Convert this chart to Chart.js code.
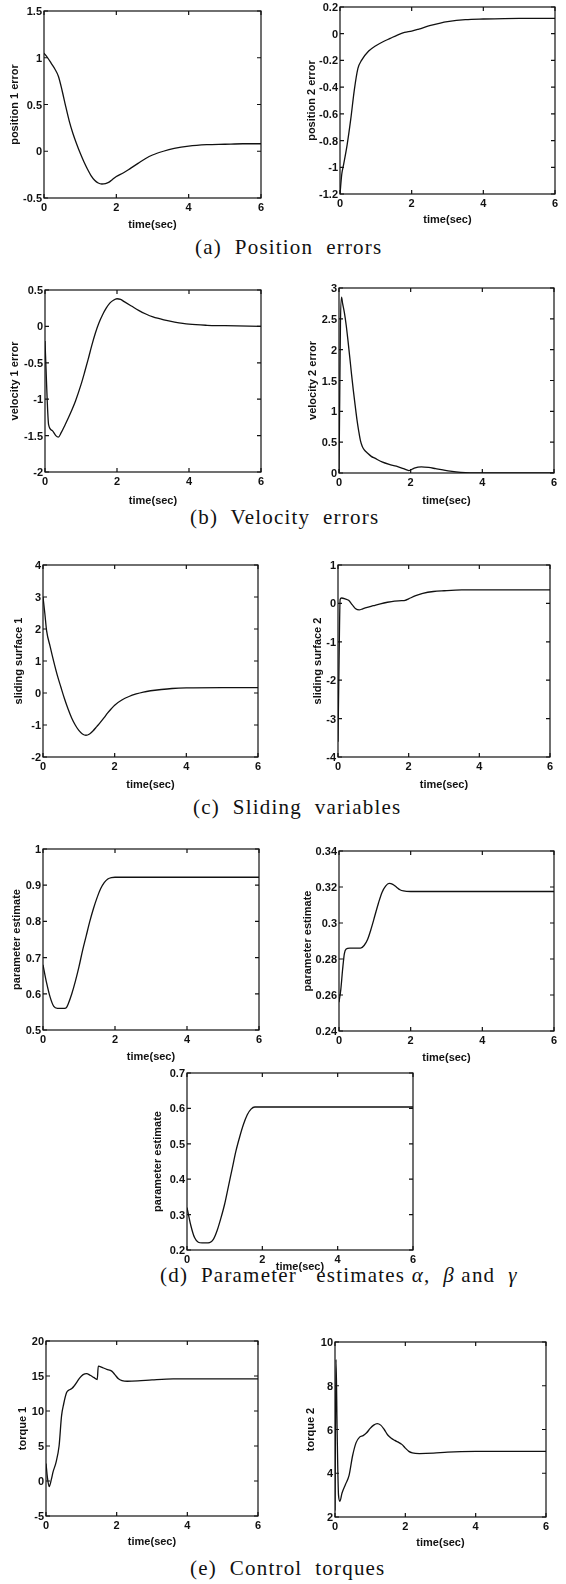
<!DOCTYPE html>
<html>
<head>
<meta charset="utf-8">
<script src="https://cdn.jsdelivr.net/npm/chart.js@4.4.1/dist/chart.umd.min.js"></script>
<style>
  body { margin: 0; background: #fff; }
  #page { position: relative; width: 566px; height: 1584px; overflow: hidden; background: #fff; }
  #page canvas { position: absolute; }
  .cap {
    position: absolute; font-family: "Liberation Serif", "DejaVu Serif", serif;
    font-size: 21px; line-height: 22px; color: #111; white-space: pre; letter-spacing: 1.2px;
  }
</style>
</head>
<body>
<div id="page">
  <div class="cap" style="left:195px; top:236px">(a)  Position  errors</div>
  <div class="cap" style="left:190px; top:506px">(b)  Velocity  errors</div>
  <div class="cap" style="left:193px; top:796px">(c)  Sliding  variables</div>
  <div class="cap" style="left:160px; top:1264px">(d)  Parameter   estimates <i>α</i>,  <i>β</i> and  <i>γ</i></div>
  <div class="cap" style="left:190px; top:1557px">(e)  Control  torques</div>
</div>
<script>
// time axis
const timeTicks = [0, 2, 4, 6];

// (a) position errors
const pos1T = [0, 0.1, 0.2, 0.3, 0.4, 0.5, 0.6, 0.7, 0.8, 0.9, 1.0, 1.1, 1.2, 1.3, 1.4, 1.5, 1.6, 1.7, 1.8, 1.9, 2.0, 2.2, 2.4, 2.6, 2.8, 3.0, 3.3, 3.6, 4.0, 4.5, 5.0, 5.5, 6.0];
const pos1E = [1.05, 1.0, 0.94, 0.88, 0.8, 0.65, 0.48, 0.32, 0.19, 0.08, -0.02, -0.11, -0.19, -0.26, -0.31, -0.34, -0.35, -0.345, -0.33, -0.3, -0.27, -0.23, -0.18, -0.13, -0.08, -0.04, 0.0, 0.03, 0.055, 0.07, 0.075, 0.08, 0.08];
const pos1Ticks = [-0.5, 0, 0.5, 1, 1.5];

const pos2T = [0, 0.05, 0.1, 0.2, 0.3, 0.4, 0.5, 0.6, 0.8, 1.0, 1.2, 1.4, 1.6, 1.8, 2.0, 2.2, 2.5, 2.8, 3.0, 3.5, 4.0, 5.0, 6.0];
const pos2E = [-1.2, -1.05, -0.98, -0.83, -0.64, -0.42, -0.26, -0.2, -0.13, -0.09, -0.06, -0.035, -0.01, 0.01, 0.02, 0.035, 0.06, 0.08, 0.09, 0.105, 0.11, 0.115, 0.115];
const pos2Ticks = [-1.2, -1, -0.8, -0.6, -0.4, -0.2, 0, 0.2];

// (b) velocity errors
const vel1T = [0, 0.03, 0.06, 0.1, 0.2, 0.3, 0.37, 0.45, 0.55, 0.7, 0.85, 1.0, 1.1, 1.2, 1.3, 1.4, 1.5, 1.6, 1.7, 1.8, 1.9, 2.0, 2.1, 2.2, 2.4, 2.6, 2.8, 3.0, 3.3, 3.6, 4.0, 4.5, 5.0, 6.0];
const vel1E = [-0.2, -0.6, -1.0, -1.35, -1.43, -1.5, -1.52, -1.46, -1.36, -1.2, -1.02, -0.8, -0.63, -0.45, -0.26, -0.09, 0.05, 0.16, 0.25, 0.32, 0.36, 0.38, 0.37, 0.34, 0.28, 0.22, 0.17, 0.13, 0.09, 0.06, 0.03, 0.015, 0.01, 0.0];
const vel1Ticks = [-2, -1.5, -1, -0.5, 0, 0.5];

const vel2T = [0, 0.02, 0.04, 0.07, 0.1, 0.15, 0.2, 0.25, 0.3, 0.35, 0.4, 0.45, 0.5, 0.55, 0.6, 0.65, 0.7, 0.8, 0.9, 1.0, 1.2, 1.4, 1.6, 1.8, 1.95, 2.1, 2.3, 2.5, 2.7, 2.9, 3.1, 3.4, 4.0, 6.0];
const vel2E = [0, 1.2, 2.4, 2.85, 2.75, 2.6, 2.4, 2.15, 1.88, 1.6, 1.34, 1.1, 0.87, 0.68, 0.52, 0.43, 0.38, 0.32, 0.27, 0.24, 0.18, 0.14, 0.11, 0.07, 0.04, 0.08, 0.1, 0.09, 0.07, 0.05, 0.03, 0.01, 0.0, 0.0];
const vel2Ticks = [0, 0.5, 1, 1.5, 2, 2.5, 3];

// (c) sliding variables
const sl1T = [0, 0.05, 0.1, 0.2, 0.3, 0.4, 0.5, 0.6, 0.7, 0.8, 0.9, 1.0, 1.1, 1.2, 1.3, 1.4, 1.5, 1.6, 1.7, 1.8, 1.9, 2.0, 2.2, 2.4, 2.6, 2.8, 3.0, 3.3, 3.6, 4.0, 5.0, 6.0];
const sl1E = [3.0, 2.5, 1.95, 1.45, 0.98, 0.55, 0.18, -0.18, -0.5, -0.78, -1.0, -1.17, -1.28, -1.32, -1.28, -1.18, -1.05, -0.92, -0.78, -0.63, -0.5, -0.38, -0.22, -0.11, -0.03, 0.03, 0.07, 0.11, 0.14, 0.16, 0.17, 0.17];
const sl1Ticks = [-2, -1, 0, 1, 2, 3, 4];

const sl2T = [0, 0.03, 0.06, 0.1, 0.2, 0.3, 0.4, 0.5, 0.6, 0.7, 0.8, 1.0, 1.2, 1.4, 1.6, 1.8, 1.9, 2.0, 2.2, 2.4, 2.7, 3.0, 3.5, 4.0, 5.0, 6.0];
const sl2E = [-3.6, -1.5, 0.1, 0.14, 0.12, 0.08, -0.03, -0.14, -0.17, -0.14, -0.11, -0.06, -0.01, 0.03, 0.06, 0.07, 0.08, 0.12, 0.2, 0.26, 0.31, 0.33, 0.35, 0.35, 0.35, 0.35];
const sl2Ticks = [-4, -3, -2, -1, 0, 1];

// (d) parameter estimates alpha, beta, gamma
const alphaT = [0, 0.1, 0.2, 0.3, 0.4, 0.5, 0.6, 0.65, 0.7, 0.8, 0.9, 1.0, 1.1, 1.2, 1.3, 1.4, 1.5, 1.6, 1.7, 1.8, 1.9, 2.0, 6.0];
const alphaE = [0.68, 0.63, 0.59, 0.565, 0.56, 0.56, 0.56, 0.562, 0.572, 0.6, 0.635, 0.675, 0.72, 0.76, 0.8, 0.835, 0.865, 0.89, 0.907, 0.917, 0.921, 0.922, 0.922];
const alphaTicks = [0.5, 0.6, 0.7, 0.8, 0.9, 1];

const betaT = [0, 0.05, 0.1, 0.15, 0.2, 0.3, 0.4, 0.5, 0.6, 0.7, 0.8, 0.9, 1.0, 1.1, 1.2, 1.3, 1.4, 1.5, 1.6, 1.7, 1.8, 2.0, 6.0];
const betaE = [0.256, 0.263, 0.274, 0.283, 0.2855, 0.286, 0.286, 0.286, 0.286, 0.2875, 0.291, 0.297, 0.304, 0.311, 0.317, 0.3205, 0.322, 0.3215, 0.32, 0.3185, 0.3178, 0.3175, 0.3175];
const betaTicks = [0.24, 0.26, 0.28, 0.3, 0.32, 0.34];

const gammaT = [0, 0.1, 0.2, 0.3, 0.4, 0.5, 0.6, 0.7, 0.8, 0.9, 1.0, 1.1, 1.2, 1.3, 1.4, 1.5, 1.6, 1.7, 1.8, 6.0];
const gammaE = [0.32, 0.27, 0.235, 0.222, 0.22, 0.22, 0.221, 0.23, 0.255, 0.29, 0.33, 0.38, 0.43, 0.48, 0.52, 0.555, 0.582, 0.598, 0.604, 0.604];
const gammaTicks = [0.2, 0.3, 0.4, 0.5, 0.6, 0.7];

// (e) control torques
const tq1T = [0, 0.04, 0.09, 0.15, 0.2, 0.28, 0.37, 0.44, 0.5, 0.58, 0.65, 0.73, 0.8, 0.87, 0.95, 1.05, 1.15, 1.25, 1.35, 1.45, 1.48, 1.6, 1.72, 1.86, 1.95, 2.05, 2.15, 2.3, 2.6, 3.0, 3.6, 4.5, 6.0];
const tq1E = [2.5, 0.5, -0.8, 0.2, 1.3, 2.6, 5.0, 9.3, 11.0, 12.6, 13.0, 13.2, 13.6, 14.1, 14.7, 15.2, 15.35, 15.1, 14.8, 14.5, 16.4, 16.2, 15.95, 15.7, 15.2, 14.6, 14.35, 14.25, 14.3, 14.45, 14.6, 14.6, 14.6];
const tq1Ticks = [-5, 0, 5, 10, 15, 20];

const tq2T = [0, 0.03, 0.06, 0.1, 0.14, 0.2, 0.3, 0.4, 0.5, 0.6, 0.7, 0.8, 0.9, 1.0, 1.1, 1.2, 1.3, 1.4, 1.5, 1.6, 1.7, 1.8, 1.9, 2.0, 2.1, 2.2, 2.4, 2.8, 3.2, 4.0, 6.0];
const tq2E = [2.3, 9.2, 6.0, 3.0, 2.72, 3.1, 3.5, 3.9, 4.8, 5.4, 5.65, 5.72, 5.85, 6.05, 6.2, 6.27, 6.2, 6.0, 5.75, 5.6, 5.5, 5.42, 5.32, 5.15, 5.0, 4.93, 4.9, 4.92, 4.97, 5.0, 5.0];
const tq2Ticks = [2, 4, 6, 8, 10];

// plot boxes on the page: [left, top, right, bottom]
const panels = [
  { t: pos1T, y: pos1E, ticks: pos1Ticks, label: "position 1 error", box: [44, 11, 261, 198], yOff: 29, xOff: 27 },
  { t: pos2T, y: pos2E, ticks: pos2Ticks, label: "position 2 error", box: [340, 7, 555, 194], yOff: 28, xOff: 26 },
  { t: vel1T, y: vel1E, ticks: vel1Ticks, label: "velocity 1 error", box: [45, 290, 261, 472], yOff: 30, xOff: 29 },
  { t: vel2T, y: vel2E, ticks: vel2Ticks, label: "velocity 2 error", box: [339, 288, 554, 473], yOff: 26, xOff: 28 },
  { t: sl1T, y: sl1E, ticks: sl1Ticks, label: "sliding surface 1", box: [43, 565, 258, 757], yOff: 24, xOff: 28 },
  { t: sl2T, y: sl2E, ticks: sl2Ticks, label: "sliding surface 2", box: [338, 565, 550, 757], yOff: 20, xOff: 28 },
  { t: alphaT, y: alphaE, ticks: alphaTicks, label: "parameter estimate", box: [43, 849, 259, 1030], yOff: 26, xOff: 27 },
  { t: betaT, y: betaE, ticks: betaTicks, label: "parameter estimate", box: [339, 851, 554, 1031], yOff: 31, xOff: 27 },
  { t: gammaT, y: gammaE, ticks: gammaTicks, label: "parameter estimate", box: [187, 1073, 413, 1250], yOff: 29, xOff: 17 },
  { t: tq1T, y: tq1E, ticks: tq1Ticks, label: "torque 1", box: [46, 1341, 258, 1516], yOff: 23, xOff: 26 },
  { t: tq2T, y: tq2E, ticks: tq2Ticks, label: "torque 2", box: [335, 1342, 546, 1517], yOff: 24, xOff: 26 },
];

const PAD_L = 48, PAD_T = 10, PAD_R = 10, PAD_B = 40;
const ink = "#111";
const axisFont = { family: '"Liberation Sans", Arial, sans-serif', size: 11, weight: "bold" };

// matlab style frame with inward ticks on all four sides
const frame = {
  id: "frame",
  afterDraw(chart) {
    const { ctx, chartArea: a, scales } = chart;
    ctx.save();
    ctx.strokeStyle = ink;
    ctx.lineWidth = 1.2;
    ctx.strokeRect(a.left, a.top, a.width, a.height);
    ctx.beginPath();
    scales.x.ticks.forEach((tk) => {
      const px = scales.x.getPixelForValue(tk.value);
      ctx.moveTo(px, a.bottom); ctx.lineTo(px, a.bottom - 4);
      ctx.moveTo(px, a.top); ctx.lineTo(px, a.top + 4);
    });
    scales.y.ticks.forEach((tk) => {
      const py = scales.y.getPixelForValue(tk.value);
      ctx.moveTo(a.left, py); ctx.lineTo(a.left + 4, py);
      ctx.moveTo(a.right, py); ctx.lineTo(a.right - 4, py);
    });
    ctx.stroke();
    ctx.restore();
  },
};

function makePanel(p) {
  const page = document.getElementById("page");
  const c = document.createElement("canvas");
  const w = p.box[2] - p.box[0] + PAD_L + PAD_R;
  const h = p.box[3] - p.box[1] + PAD_T + PAD_B;
  c.width = w;
  c.height = h;
  c.style.left = p.box[0] - PAD_L + "px";
  c.style.top = p.box[1] - PAD_T + "px";
  c.style.width = w + "px";
  c.style.height = h + "px";
  page.appendChild(c);

  const ticks = p.ticks;
  new Chart(c, {
    type: "line",
    data: {
      datasets: [{
        data: p.t.map((v, i) => ({ x: v, y: p.y[i] })),
        borderColor: ink,
        borderWidth: 1.3,
        pointRadius: 0,
        fill: false,
        cubicInterpolationMode: "monotone",
      }],
    },
    options: {
      responsive: false,
      animation: false,
      devicePixelRatio: 1,
      layout: { padding: { left: 0, top: PAD_T, right: PAD_R, bottom: 0 } },
      plugins: { legend: { display: false }, tooltip: { enabled: false } },
      scales: {
        x: {
          type: "linear",
          min: 0,
          max: 6,
          afterBuildTicks: (s) => { s.ticks = timeTicks.map((v) => ({ value: v })); },
          afterFit: (s) => { s.height = PAD_B; },
          grid: { display: false, drawTicks: false },
          border: { display: false },
          ticks: { font: axisFont, color: ink, padding: 3, maxRotation: 0, autoSkip: false, callback: (v) => String(v) },
          title: { display: true, text: "time(sec)", font: axisFont, color: ink, padding: { top: 0, bottom: PAD_B - 6.6 - p.xOff } },
        },
        y: {
          type: "linear",
          min: ticks[0],
          max: ticks[ticks.length - 1],
          afterBuildTicks: (s) => { s.ticks = ticks.map((v) => ({ value: v })); },
          afterFit: (s) => { s.width = PAD_L; },
          grid: { display: false, drawTicks: false },
          border: { display: false },
          ticks: { font: axisFont, color: ink, padding: 2, labelOffset: 1, autoSkip: false, callback: (v) => String(v) },
          title: { display: true, text: p.label, font: axisFont, color: ink, padding: { top: PAD_L - 6.6 - p.yOff, bottom: 0 } },
        },
      },
    },
    plugins: [frame],
  });
}

panels.forEach(makePanel);
</script>
</body>
</html>
